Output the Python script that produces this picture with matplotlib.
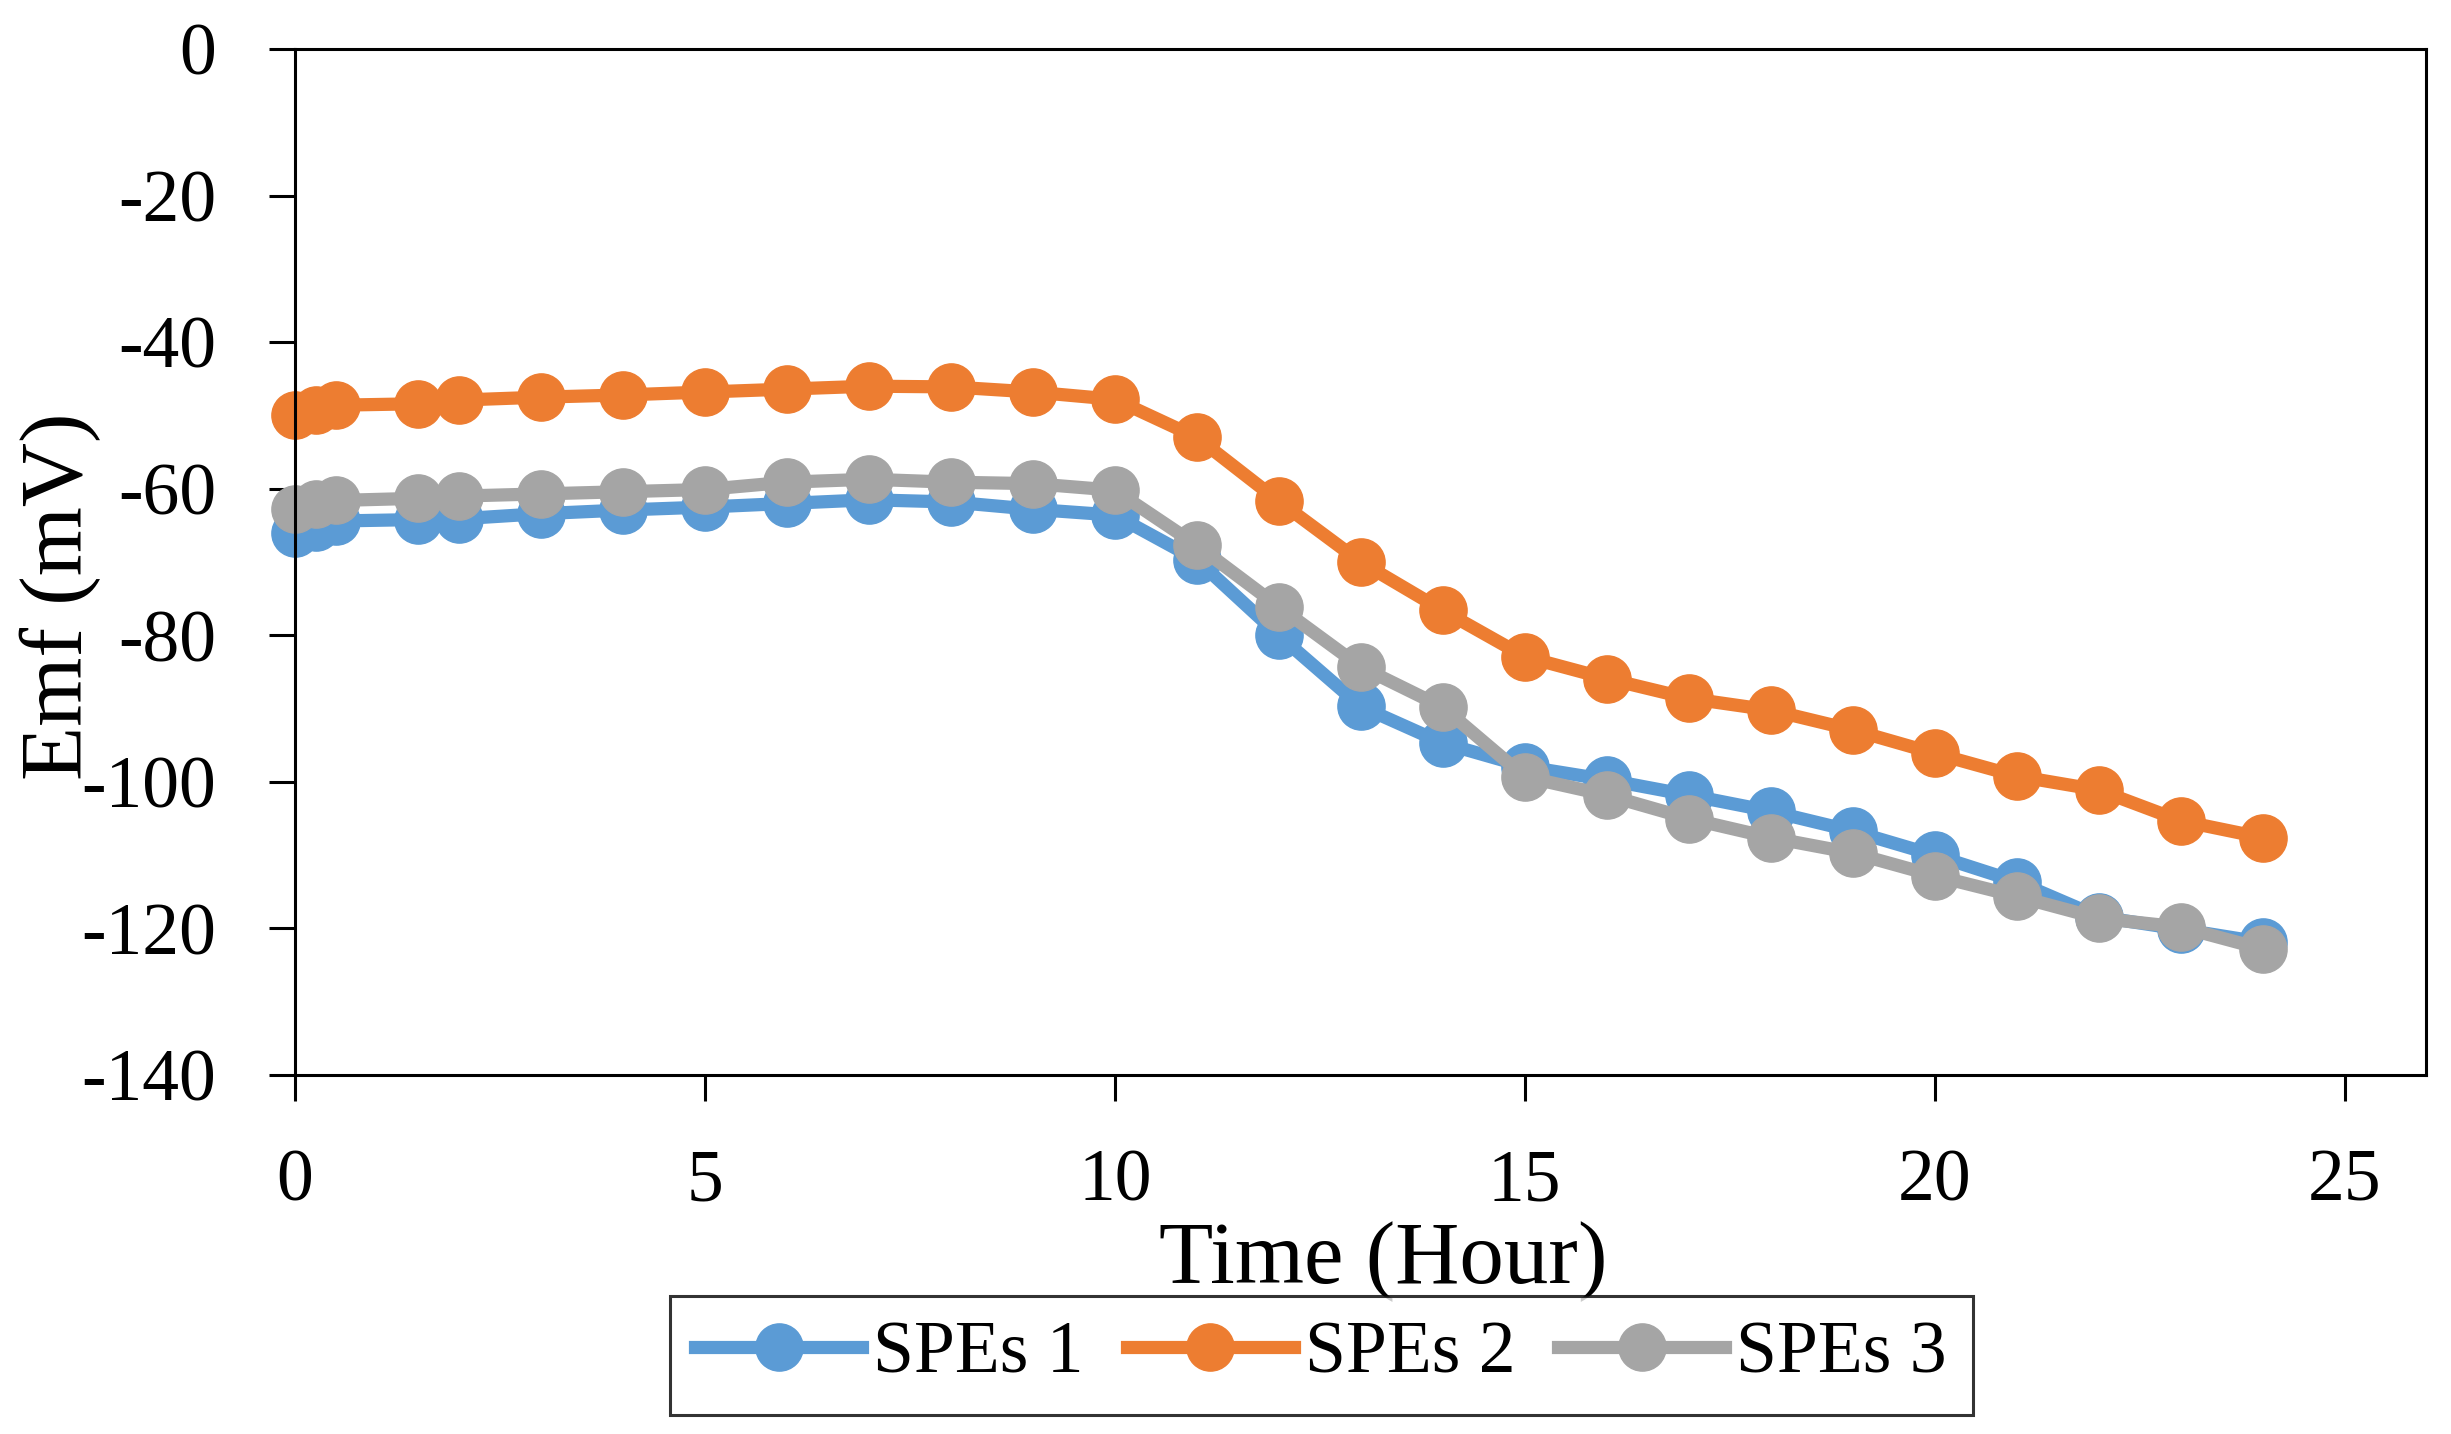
import matplotlib
matplotlib.use('Agg')
import matplotlib.pyplot as plt

# время измерения, часы
hours = [0, 0.25, 0.5, 1.5, 2, 3, 4, 5, 6, 7, 8, 9, 10,
         11, 12, 13, 14, 15, 16, 17, 18, 19, 20, 21, 22, 23, 24]

spe1 = [-66.0, -65.2, -64.4, -64.2, -64.1, -63.4, -62.9, -62.5, -62.0, -61.5, -61.8, -62.8, -63.6,
        -69.7, -80.0, -89.7, -94.7, -97.9, -99.7, -101.8, -104.0, -106.7, -110.0, -113.6, -118.4, -120.1, -121.9]
spe2 = [-50.0, -49.3, -48.6, -48.4, -47.9, -47.5, -47.2, -46.8, -46.4, -46.0, -46.1, -46.8, -47.8,
        -53.0, -61.7, -70.0, -76.6, -82.9, -85.9, -88.6, -90.2, -92.9, -96.1, -99.2, -101.1, -105.3, -107.6]
spe3 = [-62.7, -62.1, -61.6, -61.3, -61.0, -60.7, -60.4, -60.1, -59.1, -58.7, -59.1, -59.3, -60.2,
        -67.7, -76.1, -84.3, -89.8, -99.3, -101.8, -105.0, -107.6, -109.7, -112.8, -115.6, -118.6, -119.8, -122.8]

names = ["SPEs 1", "SPEs 2", "SPEs 3"]
colors = ["#5B9BD5", "#ED7D31", "#A5A5A5"]

plt.rcParams['font.family'] = ['Liberation Serif', 'DejaVu Serif']
plt.rcParams['axes.unicode_minus'] = False  # обычный дефис, как в Excel

fig = plt.figure(figsize=(24.51, 14.34), dpi=100)
ax = fig.add_axes([0.1204, 0.2503, 0.8696, 0.7155])

for ys, name, c in zip([spe1, spe2, spe3], names, colors):
    ax.plot(hours, ys, color=c, lw=9.5, marker='o', ms=34, label=name, clip_on=False)

ax.set_xlim(0, 26)
ax.set_ylim(-140, 0)
ax.set_xticks([0, 5, 10, 15, 20, 25])
ax.set_yticks(range(-140, 1, 20))
ax.tick_params(axis='both', direction='out', length=19, width=2.2, labelsize=53)
ax.tick_params(axis='x', pad=34)
ax.tick_params(axis='y', pad=38)
for s in ax.spines.values():
    s.set_linewidth(2.2)

fig.text(0.5643, 1 - 1262 / 1434, 'Time (Hour)', fontsize=64, ha='center', va='center')
fig.text(0.0245, 0.584, 'Emf (mV)', fontsize=64, ha='center', va='center', rotation=90)

leg = fig.legend(loc='center', bbox_to_anchor=(0.539, 0.055), ncol=3, fontsize=53,
                 frameon=True, fancybox=False, edgecolor='black', handlelength=2.27,
                 handletextpad=0.15, columnspacing=0.58, borderpad=0.35)
leg.get_frame().set_linewidth(2.2)

fig.savefig('out.png', dpi=100)
